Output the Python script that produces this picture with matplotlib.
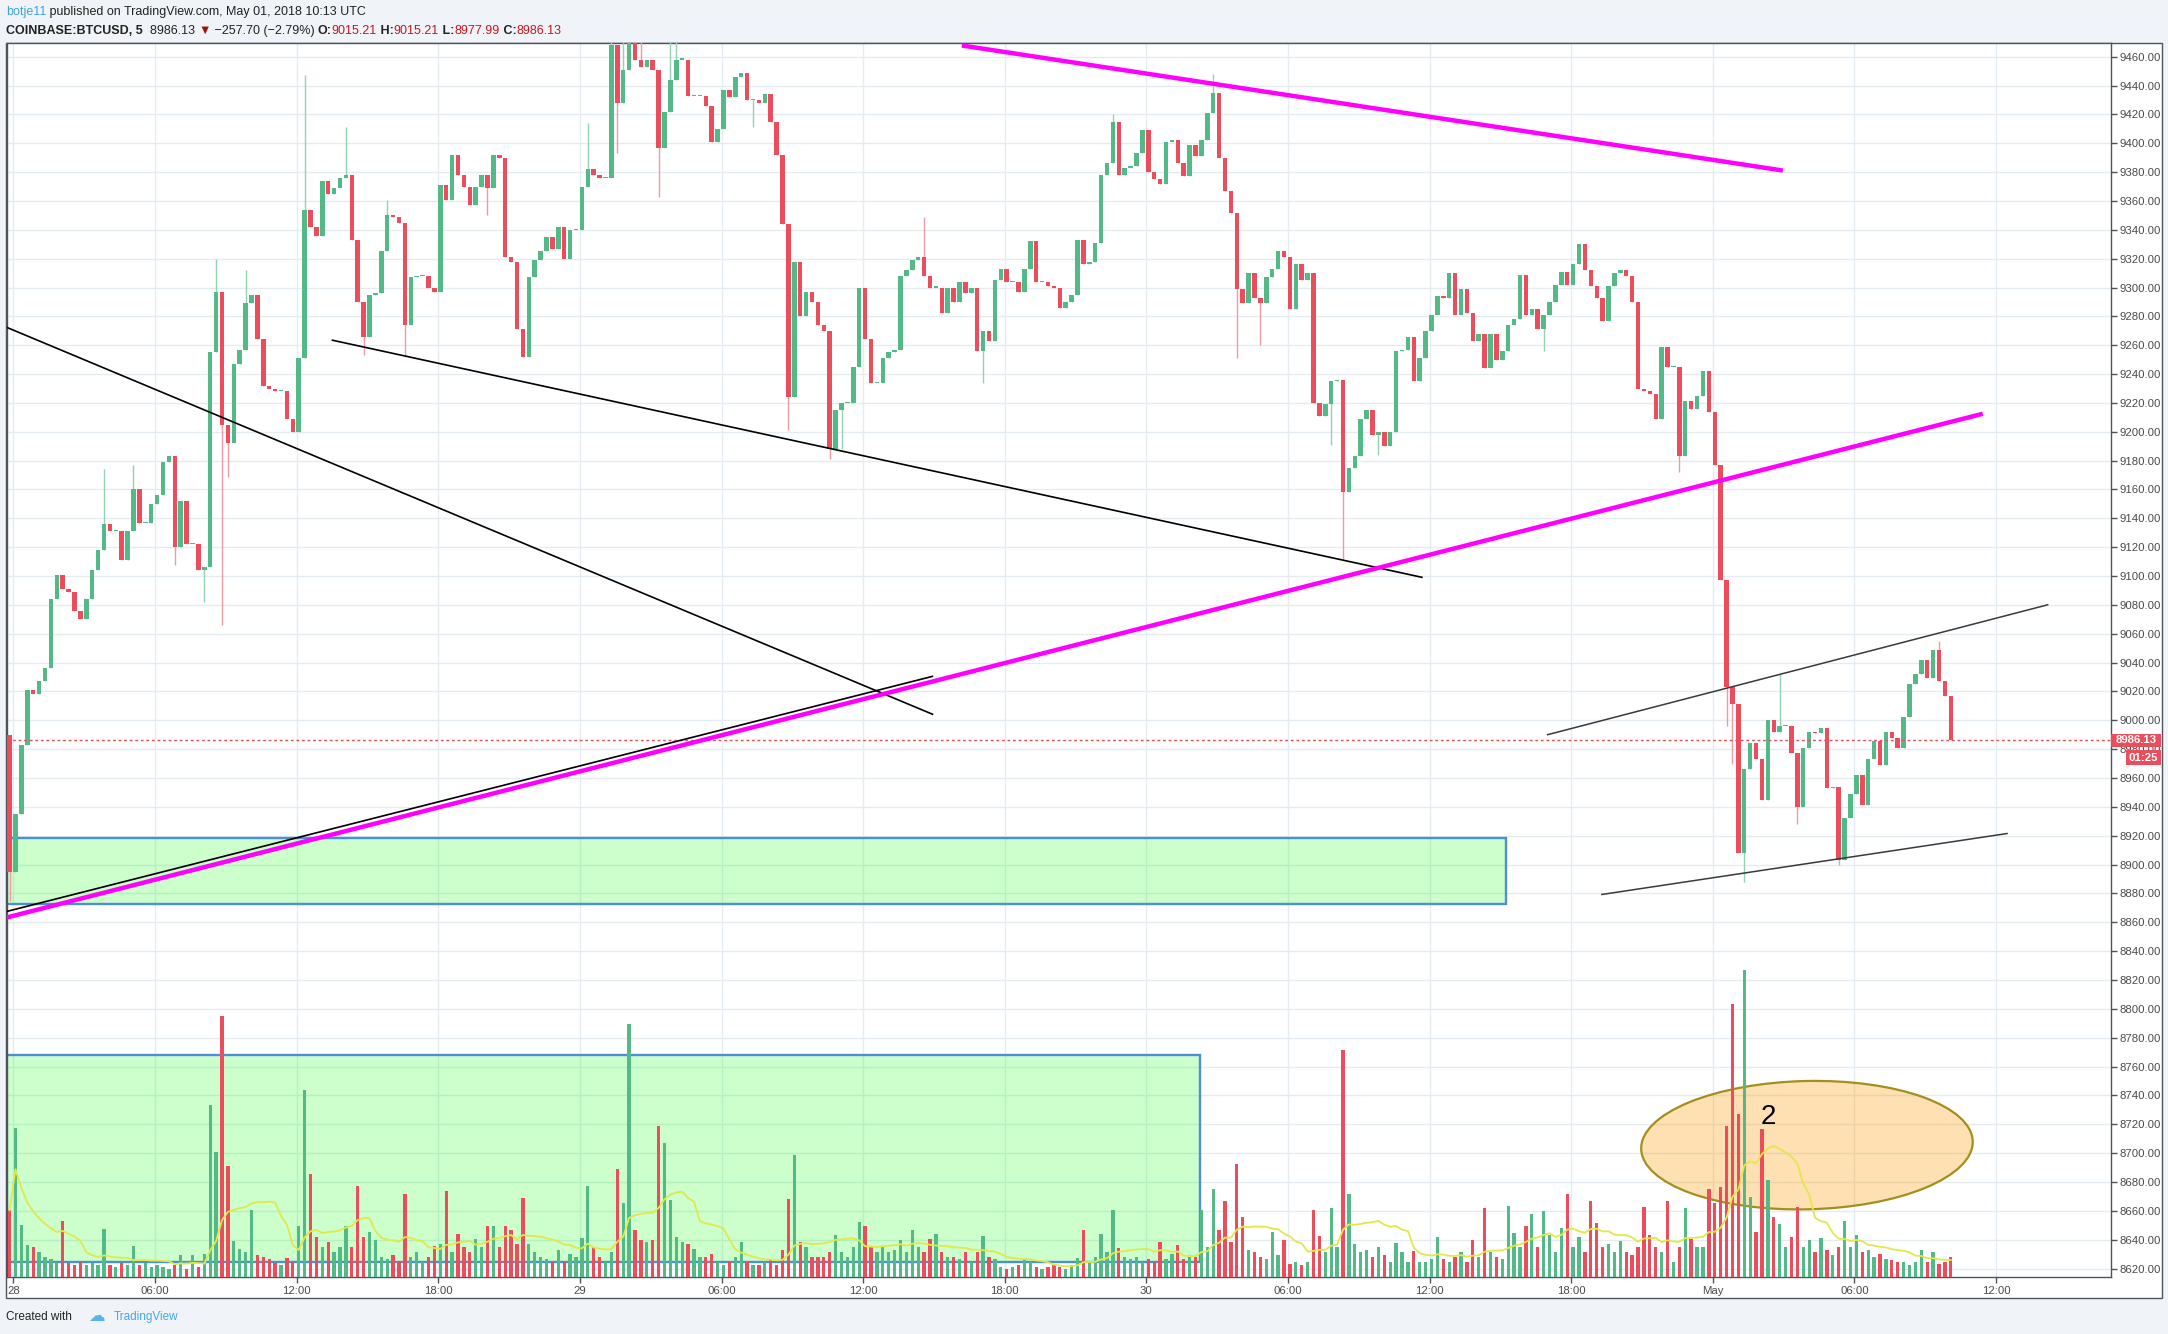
import matplotlib
matplotlib.use("Agg")
import matplotlib.pyplot as plt
from matplotlib.patches import Rectangle, Ellipse
from matplotlib.transforms import ScaledTranslation
import numpy as np
import pandas as pd

# ------------------------------------------------------------------ data
start_hour = -0.25      # first candle opens Apr 27 23:45 UTC (hours from Apr 28 00:00 UTC)
bar_hours = 0.25        # 15-minute candles
first_open = 8990.0

closes = [
    8895, 8935, 8983, 9021, 9018, 9027, 9036, 9084, 9101, 9091,
    9089, 9076, 9070, 9084, 9104, 9118, 9136, 9131, 9131, 9111,
    9131, 9160, 9137, 9137, 9150, 9156, 9179, 9183, 9120, 9152,
    9122, 9122, 9104, 9106, 9255, 9297, 9205, 9192, 9247, 9257,
    9289, 9295, 9264, 9232, 9230, 9228, 9228, 9209, 9200, 9251,
    9354, 9342, 9336, 9374, 9365, 9369, 9376, 9378, 9333, 9290,
    9266, 9295, 9296, 9325, 9350, 9349, 9345, 9274, 9307, 9308,
    9308, 9300, 9297, 9371, 9361, 9392, 9378, 9370, 9357, 9370,
    9378, 9369, 9392, 9390, 9321, 9318, 9271, 9252, 9307, 9319,
    9325, 9335, 9327, 9342, 9320, 9340, 9340, 9370, 9382, 9378,
    9376, 9376, 9468, 9428, 9451, 9472, 9458, 9453, 9458, 9451,
    9397, 9422, 9444, 9458, 9458, 9433, 9433, 9433, 9426, 9401,
    9410, 9437, 9432, 9446, 9449, 9430, 9430, 9428, 9434, 9415,
    9392, 9344, 9224, 9318, 9280, 9297, 9290, 9274, 9270, 9188,
    9215, 9220, 9220, 9245, 9300, 9264, 9234, 9234, 9251, 9255,
    9257, 9308, 9312, 9319, 9321, 9308, 9300, 9300, 9282, 9300,
    9290, 9304, 9296, 9300, 9256, 9270, 9263, 9305, 9313, 9304,
    9304, 9297, 9313, 9332, 9304, 9304, 9301, 9300, 9286, 9290,
    9295, 9333, 9316, 9318, 9331, 9378, 9386, 9415, 9378, 9383,
    9384, 9393, 9409, 9380, 9375, 9372, 9401, 9402, 9386, 9377,
    9399, 9391, 9402, 9421, 9435, 9390, 9367, 9352, 9299, 9289,
    9310, 9293, 9289, 9307, 9313, 9325, 9321, 9285, 9316, 9305,
    9310, 9220, 9211, 9219, 9235, 9236, 9158, 9175, 9183, 9209,
    9215, 9198, 9200, 9190, 9200, 9256, 9257, 9266, 9235, 9251,
    9270, 9281, 9294, 9293, 9310, 9281, 9299, 9282, 9263, 9268,
    9244, 9268, 9250, 9256, 9274, 9278, 9309, 9281, 9285, 9271,
    9281, 9290, 9302, 9311, 9302, 9316, 9330, 9312, 9301, 9293,
    9277, 9301, 9310, 9312, 9308, 9290, 9230, 9228, 9226, 9209,
    9259, 9245, 9245, 9183, 9221, 9216, 9225, 9242, 9214, 9177,
    9097, 9023, 9011, 8908, 8966, 8984, 8973, 8945, 9000, 8992,
    8996, 8996, 8977, 8940, 8981, 8992, 8991, 8995, 8953, 8954,
    8903, 8932, 8949, 8962, 8941, 8973, 8986, 8969, 8992, 8988,
    8981, 9002, 9025, 9032, 9042, 9029, 9049, 9027, 9017, 8986.13,
]

wick_highs = {16: 9174, 21: 9177, 35: 9320, 40: 9312, 50: 9447, 57: 9411, 64: 9361,
              98: 9414, 102: 9480, 104: 9478, 105: 9480, 107: 9475, 112: 9472,
              113: 9475, 155: 9349, 187: 9420, 204: 9448, 300: 9032, 327: 9055}
wick_lows = {0: 8875, 28: 9108, 33: 9082, 36: 9066, 37: 9169, 60: 9253, 67: 9253,
             81: 9350, 103: 9393, 110: 9363, 126: 9411, 132: 9201, 139: 9181,
             141: 9188, 165: 9234, 208: 9251, 212: 9260, 224: 9191, 226: 9112,
             232: 9184, 260: 9256, 283: 9172, 291: 8996, 292: 8970, 294: 8888,
             303: 8928, 310: 8900}

volumes = [
    67, 149, 52, 32, 30, 25, 20, 18, 15, 56,
    14, 12, 16, 12, 14, 12, 48, 12, 10, 14,
    12, 31, 12, 14, 10, 12, 10, 8, 12, 22,
    8, 22, 10, 23, 172, 125, 261, 111, 36, 28,
    25, 67, 22, 20, 18, 14, 12, 19, 15, 51,
    187, 103, 40, 30, 35, 25, 30, 51, 30, 91,
    40, 45, 37, 20, 18, 22, 16, 83, 20, 25,
    15, 20, 31, 33, 86, 25, 43, 30, 25, 38,
    30, 51, 51, 30, 51, 47, 33, 79, 33, 25,
    20, 18, 15, 27, 15, 23, 20, 39, 91, 30,
    20, 15, 25, 108, 74, 253, 47, 37, 35, 37,
    151, 134, 77, 40, 35, 33, 28, 20, 20, 23,
    15, 12, 15, 20, 35, 15, 12, 12, 15, 18,
    12, 27, 78, 122, 35, 30, 20, 20, 20, 25,
    42, 25, 20, 30, 55, 51, 30, 25, 30, 25,
    27, 37, 25, 47, 30, 25, 38, 43, 25, 20,
    20, 18, 25, 15, 25, 41, 20, 18, 10, 8,
    10, 12, 18, 15, 10, 8, 10, 12, 10, 8,
    12, 19, 47, 15, 20, 43, 25, 67, 29, 20,
    18, 20, 15, 18, 15, 35, 18, 23, 32, 18,
    22, 20, 67, 30, 88, 47, 76, 35, 113, 60,
    27, 25, 20, 18, 45, 22, 37, 13, 15, 12,
    15, 67, 41, 25, 69, 30, 227, 83, 33, 25,
    27, 20, 30, 22, 15, 34, 25, 15, 26, 15,
    15, 18, 40, 18, 15, 20, 25, 15, 37, 20,
    69, 25, 20, 18, 71, 44, 30, 51, 63, 30,
    66, 42, 25, 49, 83, 30, 40, 25, 76, 54,
    30, 33, 25, 36, 25, 22, 30, 70, 42, 30,
    25, 76, 15, 30, 69, 38, 30, 30, 88, 74,
    90, 151, 273, 163, 307, 80, 45, 148, 97, 60,
    53, 30, 40, 70, 30, 37, 25, 39, 27, 22,
    30, 56, 30, 42, 25, 27, 20, 23, 18, 17,
    15, 15, 12, 15, 27, 15, 25, 13, 15, 20,
]

price_ticks = list(range(8620, 9461, 20))
time_tick_hours = list(range(0, 85, 6))
time_tick_labels = ["28", "06:00", "12:00", "18:00", "29", "06:00", "12:00", "18:00",
                    "30", "06:00", "12:00", "18:00", "May", "06:00", "12:00"]
last_price = 8986.13
countdown = "01:25"

# drawings (hours, price)
black_lines = [((-0.288, 9272.4), (38.97, 9004.0)),
               ((13.48, 9263.6), (59.71, 9099.0)),
               ((-0.288, 8867.5), (38.97, 9030.6))]
magenta_lines = [((-0.288, 8863.3), (83.44, 9212.5)),
                 ((40.18, 9467.8), (74.97, 9381.1))]
channel_lines = [((64.97, 8989.9), (86.22, 9080.2)),
                 ((67.27, 8879.2), (84.50, 8921.6))]
zones = [(-1.0, 63.23, 8872.4, 8918.4), (-1.0, 50.26, 8624.3, 8767.8)]
ellipse_center = (75.99, 8705.5)
label_2 = (74.36, 8725.2)

# ------------------------------------------------------------------ figure
W, H, DPI = 2168, 1334, 100
FAM = ["Liberation Sans", "DejaVu Sans"]
plt.rcParams["font.family"] = FAM
UP, DN = "#53b987", "#eb4d5c"
UPW, DNW = "#93d3b3", "#f29aa3"
TXT = "#4a4a4a"
EDGE = "#50535e"

fig = plt.figure(figsize=(W / DPI, H / DPI), dpi=DPI, facecolor="#f0f3f7")


def fx(px):
    return px / W


def fy(py):
    return 1 - py / H


panel = Rectangle((fx(6.2), fy(1297.5)), fx(2161.5) - fx(6.2), fy(43.3) - fy(1297.5),
                  transform=fig.transFigure, facecolor="white", edgecolor=EDGE,
                  lw=1.0, zorder=-10)
fig.add_artist(panel)

L, R, T, B = 6.7, 2110.7, 43.3, 1277.3
ax = fig.add_axes([fx(L), fy(B), fx(R) - fx(L), fy(T) - fy(B)])
ax.set_facecolor("white")
ax.set_xlim(-0.288, 88.86)
ax.set_ylim(8613.9, 9469.3)
for s in ax.spines.values():
    s.set_color(EDGE)
    s.set_linewidth(1.0)

ax.yaxis.tick_right()
ax.set_yticks(price_ticks)
ax.set_yticklabels([f"{v:.2f}" for v in price_ticks])
ax.tick_params(axis="y", length=4, width=1, color=EDGE, labelsize=8.2,
               labelcolor=TXT, pad=2)
ax.set_xticks(time_tick_hours)
ax.set_xticklabels(time_tick_labels)
ax.tick_params(axis="x", length=4, width=1, color=EDGE, labelsize=8.2,
               labelcolor=TXT, pad=2)
ax.grid(True, color="#e4ecf2", lw=1.0)
ax.set_axisbelow(True)

# zones
for x0, x1, p0, p1 in zones:
    ax.add_patch(Rectangle((x0, p0), x1 - x0, p1 - p0, facecolor=(0, 1, 0, 0.2),
                           edgecolor="#4a8fd8", lw=1.7, zorder=1))

# ellipse (drawn in pixel size, anchored on data point)
ell = Ellipse((0, 0), 3.316, 1.283, angle=1.3,
              transform=fig.dpi_scale_trans + ScaledTranslation(
                  ellipse_center[0], ellipse_center[1], ax.transData),
              facecolor=(1, 0.6, 0, 0.3), edgecolor="#a38f1c", lw=1.6, zorder=1.5)
ax.add_patch(ell)

# candles
n = len(closes)
opens = np.array([first_open] + closes[:-1], dtype=float)
c = np.array(closes, dtype=float)
times = start_hour + bar_hours * np.arange(n) + 5 / 60
hi = np.maximum(opens, c)
lo = np.minimum(opens, c)
for k, v in wick_highs.items():
    hi[k] = max(hi[k], v)
for k, v in wick_lows.items():
    lo[k] = min(lo[k], v)
up = c >= opens
ax.vlines(times, lo, hi, colors=np.where(up, UPW, DNW), lw=1.0, zorder=3)
ax.bar(times, np.maximum(np.abs(c - opens), 0.8), bottom=np.minimum(opens, c),
       width=0.19, color=np.where(up, UP, DN), lw=0, zorder=4)

# last price line
ax.axhline(last_price, color=DN, lw=1.0, ls=(0, (2, 2)), zorder=5)

# trend lines
for (h0, p0), (h1, p1) in black_lines:
    ax.plot([h0, h1], [p0, p1], color="black", lw=1.2, zorder=6, solid_capstyle="butt")
for (h0, p0), (h1, p1) in magenta_lines:
    ax.plot([h0, h1], [p0, p1], color="#ff00ff", lw=3.2, zorder=6, solid_capstyle="butt")
for (h0, p0), (h1, p1) in channel_lines:
    ax.plot([h0, h1], [p0, p1], color="#3a3a3a", lw=1.1, zorder=6, solid_capstyle="butt")

# volume overlay
ax2 = fig.add_axes(ax.get_position(), sharex=ax, frameon=False)
ax2.set_ylim(0, B - T)
ax2.set_axis_off()
ax2.bar(times, volumes, width=0.14, color=np.where(up, UP, DN), lw=0, zorder=2)
ma = pd.Series(volumes, dtype=float).rolling(12, min_periods=1).mean()
ax2.plot(times, ma, color="#e2e84a", lw=1.3, zorder=3)
ax2.text(label_2[0], label_2[1], "2", transform=ax.transData, fontsize=20,
         color="black", ha="center", va="center", zorder=5)

# price label boxes on the axis
fig.canvas.draw()
yd = ax.transData.transform((0, last_price))[1]
box1 = Rectangle((R, yd - 6.7), 2161.3 - R, 13.4, transform=None,
                 facecolor=DN, edgecolor="none", zorder=20)
fig.add_artist(box1)
fig.text((R + 2161.3) / 2 / W, yd / H, f"{last_price:.2f}", color="white",
         fontsize=8.2, fontweight="bold", ha="center", va="center", zorder=21)
box2 = Rectangle((2126, yd - 24.5), 2161.3 - 2126, 14.5, transform=None,
                 facecolor=DN, edgecolor="none", zorder=20)
fig.add_artist(box2)
fig.text((2126 + 2161.3) / 2 / W, (yd - 17.2) / H, countdown, color="white",
         fontsize=8.2, fontweight="bold", ha="center", va="center", zorder=21)

# header
renderer = fig.canvas.get_renderer()


def seq_text(x_px, y_px, pieces, size):
    x = x_px
    for s, col, wt in pieces:
        t = fig.text(fx(x), fy(y_px), s, color=col, fontsize=size, fontweight=wt,
                     ha="left", va="center", family=FAM)
        x += t.get_window_extent(renderer=renderer).width


RED = "#c4161c"
DARK = "#222222"
seq_text(6, 12.5, [("botje11", "#3ea3e0", "normal"),
                   (" published on TradingView.com, May 01, 2018 10:13 UTC", DARK, "normal")], 9)
seq_text(6, 31, [("COINBASE:BTCUSD, 5", DARK, "bold"),
                 ("  8986.13 ", DARK, "normal"),
                 ("\u25bc", "#a01010", "normal"),
                 (" \u2212257.70 (\u22122.79%) ", DARK, "normal"),
                 ("O:", DARK, "bold"), ("9015.21", RED, "normal"),
                 (" H:", DARK, "bold"), ("9015.21", RED, "normal"),
                 (" L:", DARK, "bold"), ("8977.99", RED, "normal"),
                 (" C:", DARK, "bold"), ("8986.13", RED, "normal")], 9)

# footer
fig.text(fx(6), fy(1317), "Created with", fontsize=8.5, color=DARK, ha="left", va="center")
fig.text(fx(88), fy(1316), "\u2601", fontsize=12, color="#5ab2ea", ha="left", va="center",
         family=["DejaVu Sans"])
fig.text(fx(114), fy(1317), "TradingView", fontsize=8.5, color="#48a8e2", ha="left", va="center")

fig.savefig("out.png", dpi=DPI, facecolor=fig.get_facecolor())
